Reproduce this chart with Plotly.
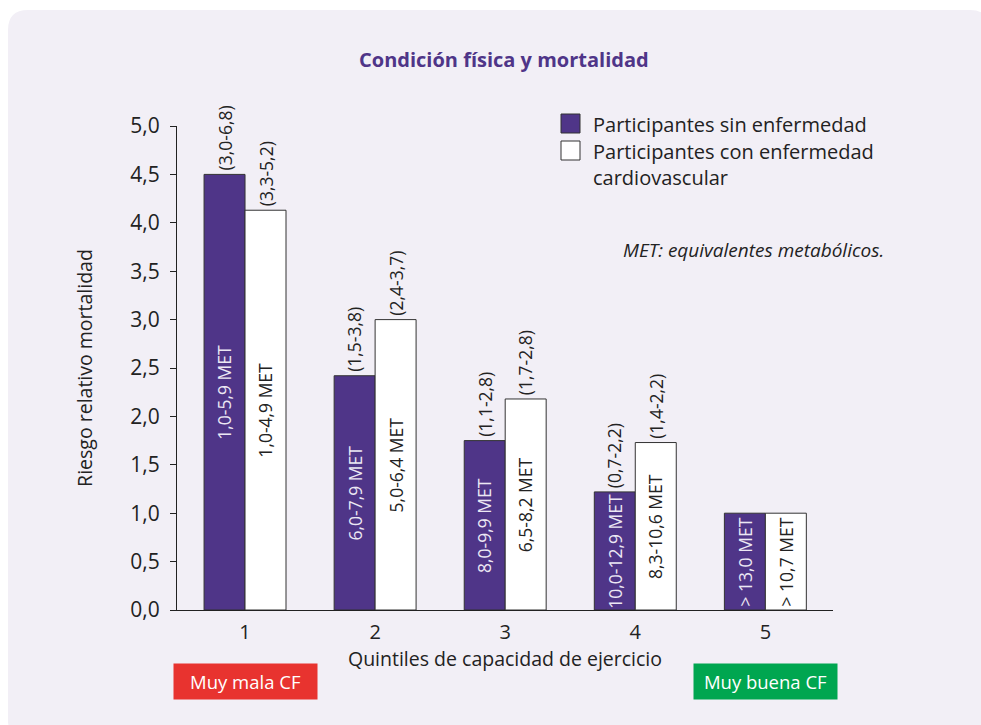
import plotly.graph_objects as go

# ---------------- data ----------------
quintiles = [1, 2, 3, 4, 5]
riesgo_sin = [4.5, 2.42, 1.75, 1.22, 1.0]
riesgo_con = [4.13, 3.0, 2.18, 1.73, 1.0]
ic_sin = ["(3,0-6,8)", "(1,5-3,8)", "(1,1-2,8)", "(0,7-2,2)", ""]
ic_con = ["(3,3-5,2)", "(2,4-3,7)", "(1,7-2,8)", "(1,4-2,2)", ""]
met_sin = ["1,0-5,9 MET", "6,0-7,9 MET", "8,0-9,9 MET", "10,0-12,9 MET", "> 13,0 MET"]
met_con = ["1,0-4,9 MET", "5,0-6,4 MET", "6,5-8,2 MET", "8,3-10,6 MET", "> 10,7 MET"]
serie_names = ["Participantes sin enfermedad", "Participantes con enfermedad<br>cardiovascular"]
y_ticks = [0, 0.5, 1, 1.5, 2, 2.5, 3, 3.5, 4, 4.5, 5]

# ---------------- style ----------------
W, H = 981, 725
ML, MR, MT, MB = 177, 148, 126, 115
PURPLE = "#4f3588"
PANEL = "#f2eff6"
TXT = "#222222"
FONT = "Open Sans"
BARGAP = 0.37
bar_w = (1 - BARGAP) / 2
off = bar_w / 2

PW = W - ML - MR
PH = H - MT - MB


def px_x(x):
    return (x - ML) / PW


def px_y(y):
    return (H - MB - y) / PH


fig = go.Figure()
fig.add_trace(go.Bar(x=quintiles, y=riesgo_sin, name=serie_names[0],
                     marker=dict(color=PURPLE, line=dict(color="#333333", width=1)),
                     showlegend=False, hoverinfo="skip"))
fig.add_trace(go.Bar(x=quintiles, y=riesgo_con, name=serie_names[1],
                     marker=dict(color="white", line=dict(color="#333333", width=1)),
                     showlegend=False, hoverinfo="skip"))

ann = []
for q, vs, vc, a, b, ma, mb in zip(quintiles, riesgo_sin, riesgo_con, ic_sin, ic_con, met_sin, met_con):
    for xx, v, ic, met, col in [(q - off, vs, a, ma, "#ece8f4"), (q + off, vc, b, mb, TXT)]:
        if ic:
            ann.append(dict(x=xx, y=v, xref="x", yref="y", text=ic, textangle=-90,
                            showarrow=False, xanchor="center", yanchor="bottom", yshift=2,
                            font=dict(family=FONT, size=17.5, color=TXT)))
        ann.append(dict(x=xx, y=v / 2, xref="x", yref="y", text=met, textangle=-90,
                        showarrow=False, xanchor="center", yanchor="middle",
                        font=dict(family=FONT, size=17.5, color=col)))

# title
ann.append(dict(x=px_x(504), y=px_y(60), xref="paper", yref="paper", showarrow=False,
                text="<b>Condición física y mortalidad</b>", xanchor="center", yanchor="middle",
                font=dict(family=FONT, size=20, color=PURPLE)))
# legend (manual)
shapes = []
leg = [(PURPLE, 124, serie_names[0]), ("white", 151, serie_names[1])]
for col, yc, name in leg:
    shapes.append(dict(type="rect", xref="paper", yref="paper",
                       x0=px_x(561), x1=px_x(580), y0=px_y(yc - 10), y1=px_y(yc + 9),
                       fillcolor=col, line=dict(color="#333333", width=1)))
    ann.append(dict(x=px_x(591), y=px_y(yc - 15), xref="paper", yref="paper", showarrow=False,
                    text=name, xanchor="left", yanchor="top", align="left",
                    font=dict(family=FONT, size=20, color=TXT)))
ann.append(dict(x=px_x(886), y=px_y(250), xref="paper", yref="paper", showarrow=False,
                text="<i>MET: equivalentes metabólicos.</i>", xanchor="right", yanchor="middle",
                font=dict(family=FONT, size=19, color=TXT)))
# quality boxes
for q, txt, col in [(quintiles[0], "Muy mala CF", "#e8332f"), (quintiles[-1], "Muy buena CF", "#00a650")]:
    ann.append(dict(x=q, y=px_y(681), xref="x", yref="paper", showarrow=False, text=txt,
                    xanchor="center", yanchor="middle", bgcolor=col, width=137, height=29,
                    borderpad=3, font=dict(family=FONT, size=18.5, color="white")))

# panel background with rounded corners
r = 20
x0, y0, x1, y1 = 8, 10, 990, 740
path = (f"M {px_x(x0+r)},{px_y(y0)} L {px_x(x1-r)},{px_y(y0)} Q {px_x(x1)},{px_y(y0)} {px_x(x1)},{px_y(y0+r)} "
        f"L {px_x(x1)},{px_y(y1-r)} Q {px_x(x1)},{px_y(y1)} {px_x(x1-r)},{px_y(y1)} "
        f"L {px_x(x0+r)},{px_y(y1)} Q {px_x(x0)},{px_y(y1)} {px_x(x0)},{px_y(y1-r)} "
        f"L {px_x(x0)},{px_y(y0+r)} Q {px_x(x0)},{px_y(y0)} {px_x(x0+r)},{px_y(y0)} Z")
shapes.insert(0, dict(type="path", path=path, xref="paper", yref="paper", layer="below",
                      fillcolor=PANEL, line=dict(width=0)))

fig.update_layout(
    width=W, height=H, margin=dict(l=ML, r=MR, t=MT, b=MB, pad=0),
    paper_bgcolor="white", plot_bgcolor="rgba(0,0,0,0)",
    barmode="group", bargap=BARGAP, bargroupgap=0,
    separators=",.",
    font=dict(family=FONT, color=TXT),
    annotations=ann, shapes=shapes, showlegend=False,
    xaxis=dict(range=[0.477, 5.52], tickmode="array", tickvals=quintiles,
               ticktext=[str(q) for q in quintiles], showgrid=False, zeroline=False,
               showline=True, linecolor="#222222", linewidth=1.2, ticks="",
               ticklabelstandoff=4,
               tickfont=dict(family=FONT, size=20, color=TXT),
               title=dict(text="Quintiles de capacidad de ejercicio", standoff=0,
                          font=dict(family=FONT, size=19.5, color=TXT))),
    yaxis=dict(range=[0, 5], tickmode="array", tickvals=y_ticks, tickformat=".1f",
               showgrid=False, zeroline=False, showline=True, linecolor="#222222", linewidth=1.2,
               ticks="outside", ticklen=6, tickcolor="#222222", tickwidth=1,
               ticklabelstandoff=6,
               tickfont=dict(family=FONT, size=21, color=TXT),
               title=dict(text="Riesgo relativo mortalidad", standoff=32,
                          font=dict(family=FONT, size=19.5, color=TXT))),
)

fig.write_html("out.html")
